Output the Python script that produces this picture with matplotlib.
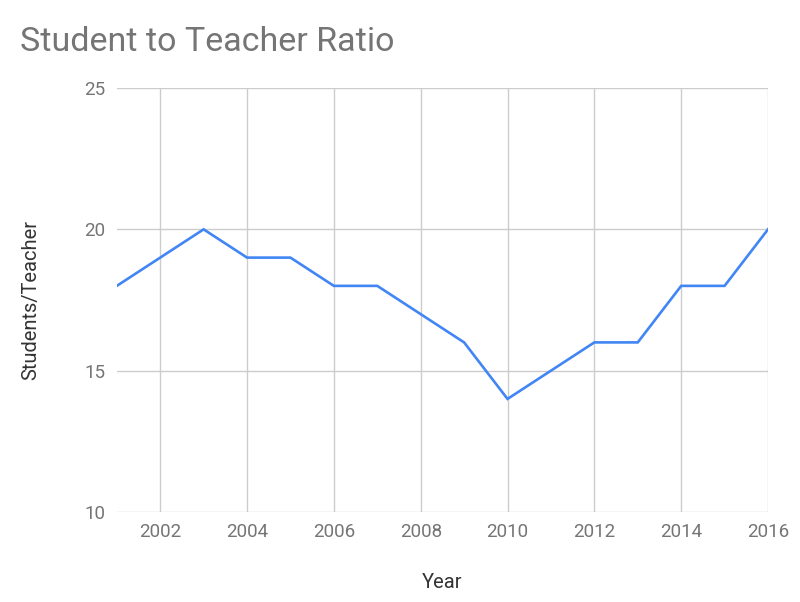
import matplotlib.pyplot as plt

years = [2001, 2002, 2003, 2004, 2005, 2006, 2007, 2008,
         2009, 2010, 2011, 2012, 2013, 2014, 2015, 2016]
ratio = [18, 19, 20, 19, 19, 18, 18, 17, 16, 14, 15, 16, 16, 18, 18, 20]
x_ticks = [2002, 2004, 2006, 2008, 2010, 2012, 2014, 2016]
y_ticks = [10, 15, 20, 25]

plt.rcParams["font.family"] = ["Roboto", "DejaVu Sans"]

fig = plt.figure(figsize=(8, 6.02), dpi=100)
ax = fig.add_axes([0.146, 0.1495, 0.814, 0.7043])

ax.plot(years, ratio, color="#4285F4", linewidth=1.9, solid_joinstyle="miter", zorder=3)

ax.set_xlim(2001, 2016)
ax.set_ylim(10, 25)
ax.set_xticks(x_ticks)
ax.set_yticks(y_ticks)
ax.grid(True, color="#cccccc", linewidth=1.0)
ax.set_axisbelow(True)
for spine in ax.spines.values():
    spine.set_visible(False)
ax.tick_params(length=0, labelsize=13.5, colors="#757575", pad=8)

ax.set_xlabel("Year", fontsize=14.5, color="#333333", labelpad=23)
ax.set_ylabel("Students/Teacher", fontsize=14.5, color="#333333", labelpad=32)

fig.text(0.025, 0.93, "Student to Teacher Ratio", fontsize=24.5, color="#757575",
         ha="left", va="center")

fig.savefig("out.png", dpi=100)
